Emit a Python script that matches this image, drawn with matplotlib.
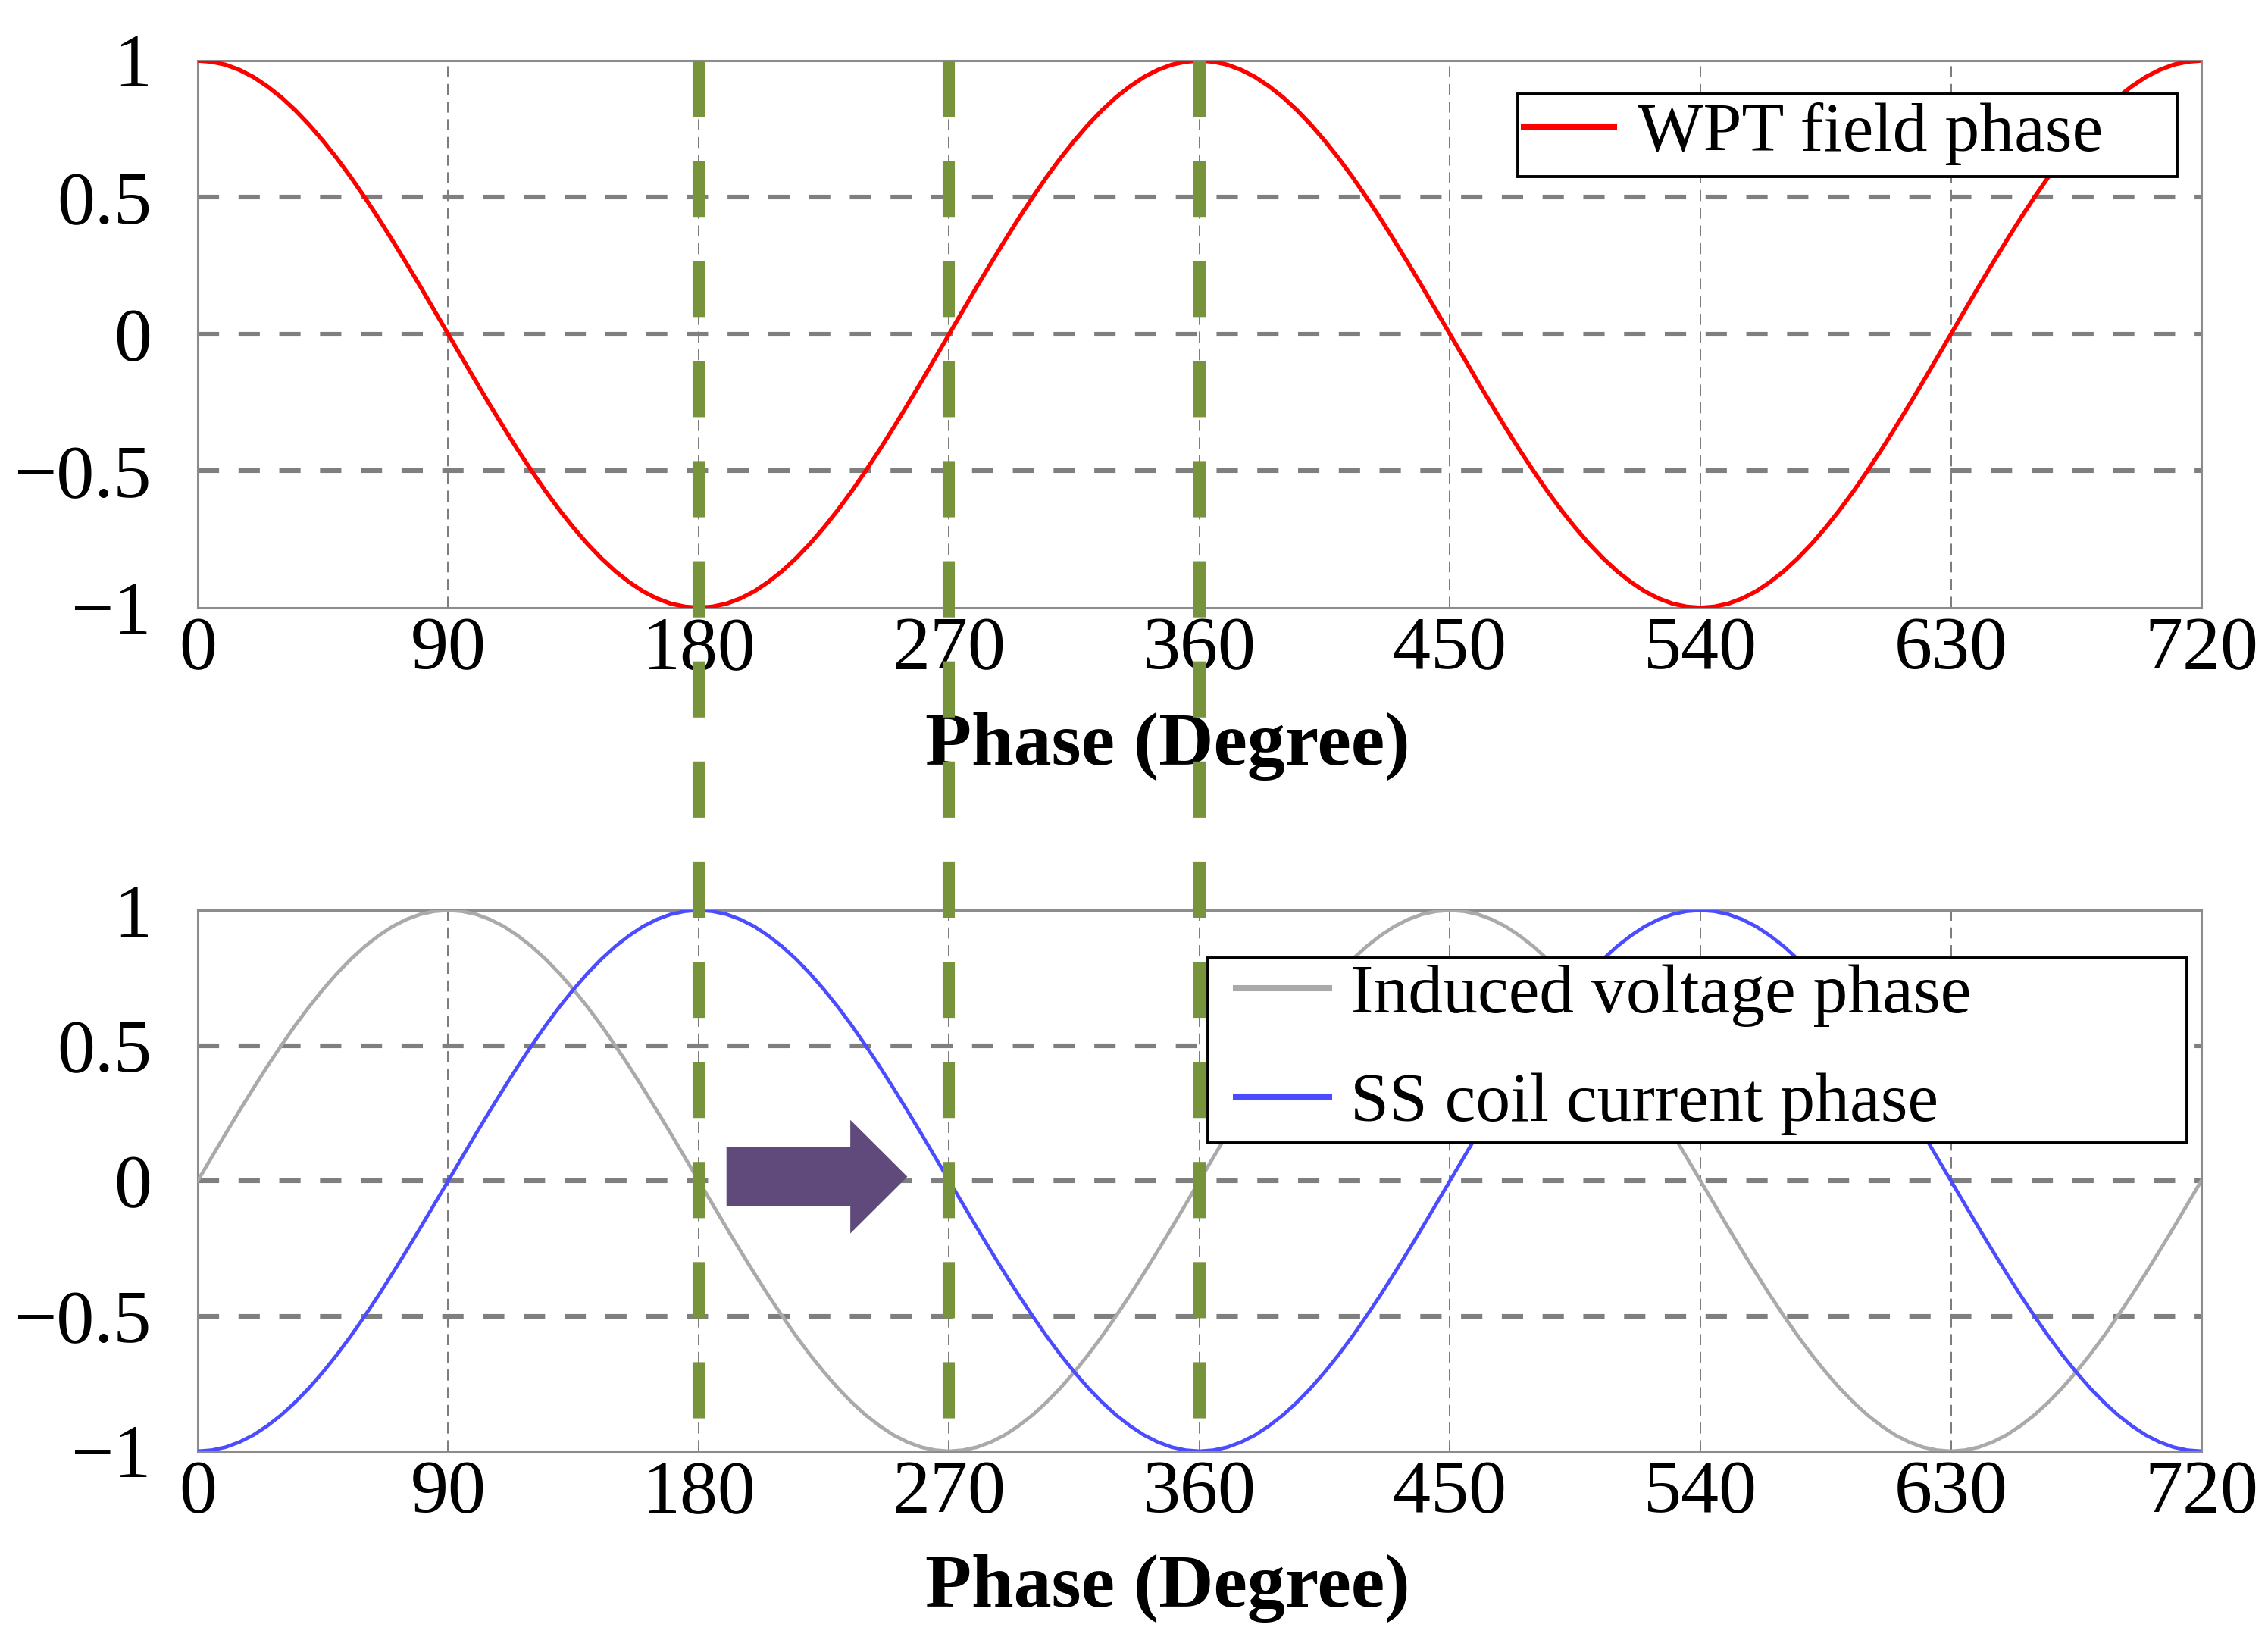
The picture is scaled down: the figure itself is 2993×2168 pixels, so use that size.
import matplotlib
matplotlib.use("Agg")
import matplotlib.pyplot as plt
from matplotlib.lines import Line2D
from matplotlib.patches import Rectangle, FancyArrow
import numpy as np

# phase axis, one sample every 5 degrees
phase_deg = np.arange(0, 721, 5)

# values
wpt_field = [
    1.000, 0.996, 0.985, 0.966, 0.940, 0.906, 0.866, 0.819, 0.766, 0.707, 0.643, 0.574, 0.500, 0.423, 0.342, 0.259, 0.174, 0.087, 0.000,
    -0.087, -0.174, -0.259, -0.342, -0.423, -0.500, -0.574, -0.643, -0.707, -0.766, -0.819, -0.866, -0.906, -0.940, -0.966, -0.985, -0.996, -1.000,
    -0.996, -0.985, -0.966, -0.940, -0.906, -0.866, -0.819, -0.766, -0.707, -0.643, -0.574, -0.500, -0.423, -0.342, -0.259, -0.174, -0.087, 0.000,
    0.087, 0.174, 0.259, 0.342, 0.423, 0.500, 0.574, 0.643, 0.707, 0.766, 0.819, 0.866, 0.906, 0.940, 0.966, 0.985, 0.996, 1.000,
    0.996, 0.985, 0.966, 0.940, 0.906, 0.866, 0.819, 0.766, 0.707, 0.643, 0.574, 0.500, 0.423, 0.342, 0.259, 0.174, 0.087, 0.000,
    -0.087, -0.174, -0.259, -0.342, -0.423, -0.500, -0.574, -0.643, -0.707, -0.766, -0.819, -0.866, -0.906, -0.940, -0.966, -0.985, -0.996, -1.000,
    -0.996, -0.985, -0.966, -0.940, -0.906, -0.866, -0.819, -0.766, -0.707, -0.643, -0.574, -0.500, -0.423, -0.342, -0.259, -0.174, -0.087, 0.000,
    0.087, 0.174, 0.259, 0.342, 0.423, 0.500, 0.574, 0.643, 0.707, 0.766, 0.819, 0.866, 0.906, 0.940, 0.966, 0.985, 0.996, 1.000,
]

induced_voltage = [
    0.000, 0.087, 0.174, 0.259, 0.342, 0.423, 0.500, 0.574, 0.643, 0.707, 0.766, 0.819, 0.866, 0.906, 0.940, 0.966, 0.985, 0.996, 1.000,
    0.996, 0.985, 0.966, 0.940, 0.906, 0.866, 0.819, 0.766, 0.707, 0.643, 0.574, 0.500, 0.423, 0.342, 0.259, 0.174, 0.087, 0.000,
    -0.087, -0.174, -0.259, -0.342, -0.423, -0.500, -0.574, -0.643, -0.707, -0.766, -0.819, -0.866, -0.906, -0.940, -0.966, -0.985, -0.996, -1.000,
    -0.996, -0.985, -0.966, -0.940, -0.906, -0.866, -0.819, -0.766, -0.707, -0.643, -0.574, -0.500, -0.423, -0.342, -0.259, -0.174, -0.087, 0.000,
    0.087, 0.174, 0.259, 0.342, 0.423, 0.500, 0.574, 0.643, 0.707, 0.766, 0.819, 0.866, 0.906, 0.940, 0.966, 0.985, 0.996, 1.000,
    0.996, 0.985, 0.966, 0.940, 0.906, 0.866, 0.819, 0.766, 0.707, 0.643, 0.574, 0.500, 0.423, 0.342, 0.259, 0.174, 0.087, 0.000,
    -0.087, -0.174, -0.259, -0.342, -0.423, -0.500, -0.574, -0.643, -0.707, -0.766, -0.819, -0.866, -0.906, -0.940, -0.966, -0.985, -0.996, -1.000,
    -0.996, -0.985, -0.966, -0.940, -0.906, -0.866, -0.819, -0.766, -0.707, -0.643, -0.574, -0.500, -0.423, -0.342, -0.259, -0.174, -0.087, 0.000,
]

coil_current = [
    -1.000, -0.996, -0.985, -0.966, -0.940, -0.906, -0.866, -0.819, -0.766, -0.707, -0.643, -0.574, -0.500, -0.423, -0.342, -0.259, -0.174, -0.087, 0.000,
    0.087, 0.174, 0.259, 0.342, 0.423, 0.500, 0.574, 0.643, 0.707, 0.766, 0.819, 0.866, 0.906, 0.940, 0.966, 0.985, 0.996, 1.000,
    0.996, 0.985, 0.966, 0.940, 0.906, 0.866, 0.819, 0.766, 0.707, 0.643, 0.574, 0.500, 0.423, 0.342, 0.259, 0.174, 0.087, 0.000,
    -0.087, -0.174, -0.259, -0.342, -0.423, -0.500, -0.574, -0.643, -0.707, -0.766, -0.819, -0.866, -0.906, -0.940, -0.966, -0.985, -0.996, -1.000,
    -0.996, -0.985, -0.966, -0.940, -0.906, -0.866, -0.819, -0.766, -0.707, -0.643, -0.574, -0.500, -0.423, -0.342, -0.259, -0.174, -0.087, 0.000,
    0.087, 0.174, 0.259, 0.342, 0.423, 0.500, 0.574, 0.643, 0.707, 0.766, 0.819, 0.866, 0.906, 0.940, 0.966, 0.985, 0.996, 1.000,
    0.996, 0.985, 0.966, 0.940, 0.906, 0.866, 0.819, 0.766, 0.707, 0.643, 0.574, 0.500, 0.423, 0.342, 0.259, 0.174, 0.087, 0.000,
    -0.087, -0.174, -0.259, -0.342, -0.423, -0.500, -0.574, -0.643, -0.707, -0.766, -0.819, -0.866, -0.906, -0.940, -0.966, -0.985, -0.996, -1.000,
]

x_ticks = [0, 90, 180, 270, 360, 450, 540, 630, 720]
y_ticks = [-1, -0.5, 0, 0.5, 1]
y_tick_labels = ["\u22121", "\u22120.5", "0", "0.5", "1"]
marker_phases = [180, 270, 360]  # green dashed markers

plt.rcParams["font.family"] = ["Liberation Serif", "DejaVu Serif"]
FS = 36      # ticks and axis label
LEG_FS = 33  # legend text

fig = plt.figure(figsize=(14.965, 10.84), dpi=200)
ax1 = fig.add_axes([0.0872, 0.6301, 0.8834, 0.3330])
ax2 = fig.add_axes([0.0872, 0.1167, 0.8834, 0.3293])


def style_axes(ax):
    ax.set_xlim(0, 720)
    ax.set_ylim(-1, 1)
    ax.set_xticks(x_ticks)
    ax.set_yticks(y_ticks)
    ax.set_yticklabels(y_tick_labels)
    ax.tick_params(axis="both", length=0, labelsize=FS)
    ax.tick_params(axis="x", pad=4)
    ax.tick_params(axis="y", pad=22)
    for s in ax.spines.values():
        s.set_color("#8c8c8c")
        s.set_linewidth(1.1)
    # thin vertical grid, thick horizontal grid
    for xv in x_ticks[1:-1]:
        ax.axvline(xv, color="#7a7a7a", lw=0.7, dashes=(7.5, 4.5), zorder=1)
    for yv in [-0.5, 0, 0.5]:
        ax.axhline(yv, color="#7f7f7f", lw=2.2, dashes=(4.6, 4.2), zorder=1)
    ax.set_xlabel("Phase (Degree)", fontsize=FS, fontweight="bold")
    ax.xaxis.set_label_coords(0.484, -0.19)


style_axes(ax1)
style_axes(ax2)

ax1.plot(phase_deg, wpt_field, color="#ff0000", lw=2.0, zorder=3, label="WPT field phase")
ax2.plot(phase_deg, induced_voltage, color="#aaaaaa", lw=1.7, zorder=3, label="Induced voltage phase")
ax2.plot(phase_deg, coil_current, color="#4b4bff", lw=1.7, zorder=3, label="SS coil current phase")

# legend boxes drawn by hand (text sits left, big empty margin on the right)
ax1.add_patch(Rectangle((0.659, 0.788), 0.329, 0.151, transform=ax1.transAxes,
                        facecolor="white", edgecolor="black", lw=1.4, zorder=5))
ax2.add_patch(Rectangle((0.504, 0.570), 0.489, 0.342, transform=ax2.transAxes,
                        facecolor="white", edgecolor="black", lw=1.4, zorder=5))

leg1 = ax1.legend(loc="center left", bbox_to_anchor=(0.662, 0.866), frameon=False,
                  fontsize=LEG_FS, handlelength=1.3, handletextpad=0.33,
                  borderpad=0, borderaxespad=0)
leg2 = ax2.legend(loc="center left", bbox_to_anchor=(0.518, 0.742), frameon=False,
                  fontsize=LEG_FS, handlelength=1.35, handletextpad=0.3, labelspacing=0.65,
                  borderpad=0, borderaxespad=0)
for leg in (leg1, leg2):
    leg.set_zorder(6)
    for ln in leg.get_lines():
        ln.set_linewidth(2.9)

# purple arrow showing the phase shift
ax2.add_patch(FancyArrow(190, 0.015, 65, 0, width=0.22, head_width=0.42, head_length=20.5,
                         length_includes_head=True, color="#5f4a7b", lw=0, zorder=4))

# green dashed markers across both panels
fig.canvas.draw()
inv = fig.transFigure.inverted()
y_top = 1 - 80 / 2168
y_bot = 1 - 1897 / 2168
for ph in marker_phases:
    xf = inv.transform(ax1.transData.transform((ph, 0)))[0]
    fig.add_artist(Line2D([xf, xf], [y_top, y_bot], transform=fig.transFigure,
                          color="#77933c", lw=5.8, dashes=(4.6, 3.6), zorder=2))

fig.savefig("out.png", dpi=200)
